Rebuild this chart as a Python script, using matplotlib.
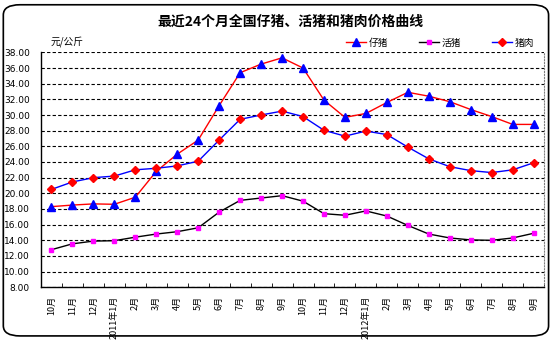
import numpy as np
import matplotlib.pyplot as plt
from matplotlib.patches import FancyBboxPatch

plt.rcParams['font.family'] = ['Noto Sans CJK SC', 'DejaVu Sans']

# months (2010-10 .. 2012-09)
months = ['10月', '11月', '12月', '2011年1月', '2月', '3月', '4月', '5月', '6月',
          '7月', '8月', '9月', '10月', '11月', '12月', '2012年1月', '2月', '3月',
          '4月', '5月', '6月', '7月', '8月', '9月']

# 仔猪 piglet price
piglet = [18.3, 18.5, 18.65, 18.6, 19.5, 22.8, 25.0, 26.8, 31.2, 35.4, 36.5, 37.3,
          36.0, 31.9, 29.7, 30.2, 31.6, 32.9, 32.4, 31.7, 30.7, 29.8, 28.8, 28.8]
# 活猪 live hog price
live_hog = [12.8, 13.55, 13.9, 13.95, 14.4, 14.8, 15.1, 15.6, 17.6, 19.1, 19.4, 19.7,
            19.0, 17.4, 17.2, 17.75, 17.1, 15.9, 14.8, 14.3, 14.05, 14.0, 14.3, 14.9]
# 猪肉 pork price
pork = [20.5, 21.45, 22.0, 22.2, 23.0, 23.2, 23.5, 24.1, 26.8, 29.45, 30.0, 30.5,
        29.8, 28.05, 27.3, 27.95, 27.5, 25.9, 24.4, 23.4, 22.9, 22.65, 23.0, 23.9]

fig = plt.figure(figsize=(5.53, 3.40), dpi=100)

# rounded frame around the whole chart
frame = FancyBboxPatch((0.006, 0.012), 0.986, 0.974, boxstyle='round,pad=0,rounding_size=0.03',
                       transform=fig.transFigure, fill=False, edgecolor='black', linewidth=1.2)
fig.patches.append(frame)

ax = fig.add_axes([0.074, 0.155, 0.910, 0.691])
x = np.arange(len(months))

ax.plot(x, piglet, color='red', linewidth=1, marker='^', markersize=6,
        markerfacecolor='blue', markeredgecolor='blue', label='仔猪')
ax.plot(x, live_hog, color='black', linewidth=1, marker='s', markersize=3,
        markerfacecolor='magenta', markeredgecolor='magenta', label='活猪')
ax.plot(x, pork, color='blue', linewidth=1, marker='D', markersize=4.5,
        markerfacecolor='red', markeredgecolor='red', label='猪肉')

ax.set_xlim(-0.5, len(months) - 0.5)
ax.set_ylim(8, 38)
ax.set_yticks(np.arange(8, 39, 2))
ax.set_yticklabels(['%.2f' % v for v in np.arange(8, 39, 2)], fontsize=6.5,
                   family='DejaVu Sans')
ax.yaxis.grid(True, linestyle=(0, (3, 2)), color='black', linewidth=0.8)
ax.set_axisbelow(True)

ax.set_xticks(x)
ax.set_xticklabels(months, rotation=90, fontsize=6.5)
ax.set_xticks(np.arange(-0.5, len(months), 1), minor=True)
ax.tick_params(axis='x', which='major', length=0, pad=6)
ax.tick_params(axis='x', which='minor', length=3, direction='in')
ax.tick_params(axis='y', length=0, pad=8)

ax.spines['top'].set_visible(False)
ax.spines['right'].set_linestyle(':')
ax.spines['right'].set_color('gray')
ax.spines['left'].set_linewidth(1)
ax.spines['bottom'].set_linewidth(1)

fig.text(0.525, 0.935, '最近24个月全国仔猪、活猪和猪肉价格曲线', ha='center', va='center',
         fontsize=10, fontweight='bold')
fig.text(0.092, 0.878, '元/公斤', fontsize=7, va='center')

ax.legend(loc='lower right', bbox_to_anchor=(0.99, 1.0), ncol=3, frameon=False,
          fontsize=7, handlelength=2.0, handletextpad=0.3, columnspacing=3.2,
          borderaxespad=0.1)

fig.savefig('out.png', dpi=100)
